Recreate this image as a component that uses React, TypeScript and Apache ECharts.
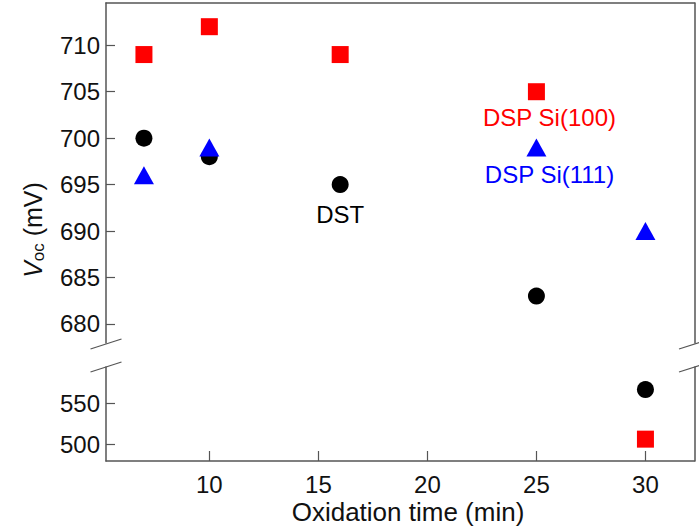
import React, { useEffect, useRef } from "react";
import * as echarts from "echarts";

// Oxidation time (min)
const timesDST = [7, 10, 16, 25, 30];
const vocDST = [700, 698, 695, 683, 567];
const timesSi100 = [7, 10, 16, 25, 30];
const vocSi100 = [709, 712, 709, 705, 506];
const timesSi111 = [7, 10, 25, 30];
const vocSi111 = [696, 699, 699, 690];

const xTicks = [10, 15, 20, 25, 30];
const yTicksUpper = [680, 685, 690, 695, 700, 705, 710];
const yTicksLower = [500, 550];

const annoText = ["DST", "DSP Si(100)", "DSP Si(111)"];
const annoX = [16, 25.6, 25.6];
const annoY = [691.8, 702.2, 696.1];
const annoColor = ["#000000", "#ff0000", "#0000ff"];

const BREAK = 600;
const FONT = "'Liberation Sans', Arial, sans-serif";
const AXIS_COLOR = "#555555";
const TEXT_COLOR = "#111111";

function split(xs: number[], ys: number[]) {
  const up: number[][] = [];
  const low: number[][] = [];
  xs.forEach((x, i) => {
    if (ys[i] > BREAK) up.push([x, ys[i]]);
    else low.push([x, ys[i]]);
  });
  return { up, low };
}

export default function App() {
  const ref = useRef<HTMLDivElement>(null);
  useEffect(() => {
    if (!ref.current) return;
    const chart = echarts.init(ref.current, null, { renderer: "svg" });
    const dst = split(timesDST, vocDST);
    const s100 = split(timesSi100, vocSi100);
    const s111 = split(timesSi111, vocSi111);

    const left = 106;
    const right = 699 - 694.5;
    const upTop = 3;
    const upBottom = 343;
    const lowTop = 367;
    const lowBottom = 461;
    const xMin = 5.26;
    const xMax = 32.25;

    const line = { show: true, onZero: false, lineStyle: { color: AXIS_COLOR, width: 1.5 } };
    const tickStyle = { color: AXIS_COLOR, width: 1.2 };
    const labelStyle = { color: TEXT_COLOR, fontSize: 24, fontFamily: FONT };

    const sq = { symbol: "rect", symbolSize: 17, itemStyle: { color: "#ff0000", opacity: 1 } };
    const ci = { symbol: "circle", symbolSize: 17, itemStyle: { color: "#000000", opacity: 1 } };
    const tr = { symbol: "triangle", symbolSize: [20, 18], itemStyle: { color: "#0000ff", opacity: 1 } };

    const slash = (cx: number, cy: number) => ({
      type: "line",
      shape: { x1: cx - 15.5, y1: cy + 5, x2: cx + 15.5, y2: cy - 5 },
      style: { stroke: AXIS_COLOR, lineWidth: 1.2 },
      silent: true,
    });
    const rightX = 694.5;

    chart.setOption({
      animation: false,
      backgroundColor: "#ffffff",
      grid: [
        { left, right, top: upTop, height: upBottom - upTop },
        { left, right, top: lowTop, height: lowBottom - lowTop },
      ],
      xAxis: [
        {
          type: "value", gridIndex: 0, position: "top", min: xMin, max: xMax,
          axisLine: line, axisTick: { show: false }, axisLabel: { show: false }, splitLine: { show: false },
        },
        {
          type: "value", gridIndex: 1, position: "bottom", min: xMin, max: xMax,
          axisLine: line,
          axisTick: { show: true, inside: true, length: 10, lineStyle: tickStyle, customValues: xTicks },
          axisLabel: { ...labelStyle, margin: 11, customValues: xTicks },
          splitLine: { show: false },
        },
      ],
      yAxis: [
        {
          type: "value", gridIndex: 0, position: "left", min: 677.95, max: 714.55,
          axisLine: line,
          axisTick: { show: true, inside: true, length: 9, lineStyle: tickStyle, customValues: yTicksUpper },
          axisLabel: { ...labelStyle, margin: 6, customValues: yTicksUpper },
          splitLine: { show: false },
        },
        {
          type: "value", gridIndex: 0, position: "right", min: 677.95, max: 714.55,
          axisLine: line, axisTick: { show: false }, axisLabel: { show: false }, splitLine: { show: false },
        },
        {
          type: "value", gridIndex: 1, position: "left", min: 479.1, max: 594.8,
          axisLine: line,
          axisTick: { show: true, inside: true, length: 9, lineStyle: tickStyle, customValues: yTicksLower },
          axisLabel: { ...labelStyle, margin: 6, customValues: yTicksLower },
          splitLine: { show: false },
        },
        {
          type: "value", gridIndex: 1, position: "right", min: 479.1, max: 594.8,
          axisLine: line, axisTick: { show: false }, axisLabel: { show: false }, splitLine: { show: false },
        },
      ],
      series: [
        { type: "scatter", name: "DSP Si(100)", xAxisIndex: 0, yAxisIndex: 0, data: s100.up, ...sq },
        { type: "scatter", name: "DST", xAxisIndex: 0, yAxisIndex: 0, data: dst.up, ...ci },
        { type: "scatter", name: "DSP Si(111)", xAxisIndex: 0, yAxisIndex: 0, data: s111.up, ...tr },
        { type: "scatter", name: "DSP Si(100) low", xAxisIndex: 1, yAxisIndex: 2, data: s100.low, ...sq },
        { type: "scatter", name: "DST low", xAxisIndex: 1, yAxisIndex: 2, data: dst.low, ...ci },
        { type: "scatter", name: "DSP Si(111) low", xAxisIndex: 1, yAxisIndex: 2, data: s111.low, ...tr },
        {
          type: "scatter", name: "annotations", xAxisIndex: 0, yAxisIndex: 0, symbolSize: 0, silent: true,
          itemStyle: { opacity: 1 },
          data: annoText.map((t, i) => ({
            name: t,
            value: [annoX[i], annoY[i]],
            label: { color: annoColor[i] },
          })),
          label: {
            show: true, position: "inside", formatter: (p: any) => p.name,
            fontSize: 24, fontFamily: FONT, opacity: 1,
          },
        },
      ],
      graphic: [
        slash(left, 344), slash(left, 367), slash(rightX, 344), slash(rightX, 367),
        {
          type: "text", x: 408, y: 512,
          style: { text: "Oxidation time (min)", fill: TEXT_COLOR, fontSize: 26, fontFamily: FONT, align: "center", verticalAlign: "middle" },
          silent: true,
        },
        {
          type: "text", x: 33, y: 230, rotation: Math.PI / 2,
          style: {
            text: "{v|V}{s|oc}{n| (mV)}",
            align: "center", verticalAlign: "middle",
            rich: {
              v: { fontSize: 25, fontStyle: "italic", fontFamily: FONT, fill: TEXT_COLOR, lineHeight: 27 },
              s: { fontSize: 17, fontFamily: FONT, fill: TEXT_COLOR, lineHeight: 10, verticalAlign: "bottom" },
              n: { fontSize: 25, fontFamily: FONT, fill: TEXT_COLOR, lineHeight: 27 },
            },
          },
          silent: true,
        },
      ],
    });
    return () => chart.dispose();
  }, []);
  return <div ref={ref} style={{ position: "fixed", left: 0, top: 0, width: 699, height: 531 }} />;
}
